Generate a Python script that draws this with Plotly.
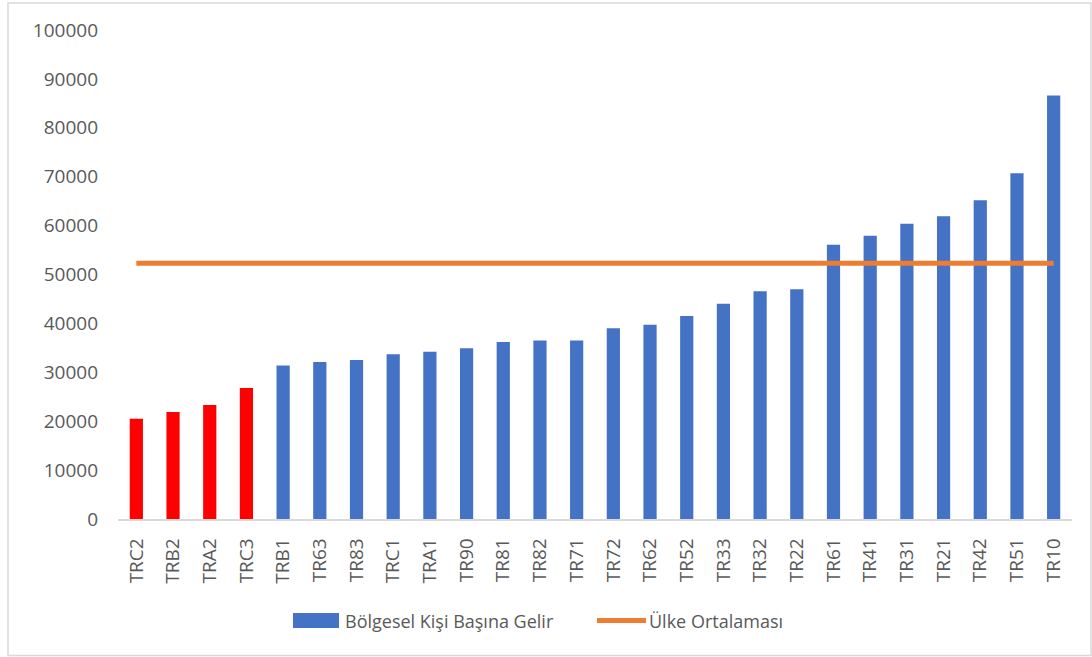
import plotly.graph_objects as go

categories = ["TRC2", "TRB2", "TRA2", "TRC3", "TRB1", "TR63", "TR83", "TRC1", "TRA1",
              "TR90", "TR81", "TR82", "TR71", "TR72", "TR62", "TR52", "TR33", "TR32",
              "TR22", "TR61", "TR41", "TR31", "TR21", "TR42", "TR51", "TR10"]
income = [20500, 21900, 23300, 26800, 31400, 32100, 32500, 33700, 34200,
          34900, 36200, 36500, 36500, 39000, 39700, 41500, 44000, 46600,
          47000, 56100, 57900, 60400, 61900, 65200, 70700, 86600]
country_avg = 52300
n_low = 4  # lowest regions highlighted in red

series_bar = "Bölgesel Kişi Başına Gelir"
series_line = "Ülke Ortalaması"
y_ticks = [0, 10000, 20000, 30000, 40000, 50000, 60000, 70000, 80000, 90000, 100000]
y_tick_text = [str(v) for v in y_ticks]

BLUE = "#4472C4"
RED = "#FF0000"
ORANGE = "#ED7D31"
TEXT = "#595959"
FONT = "Open Sans"

W, H = 1092, 657
L, R, T, B = 118, 20, 30, 138
PW, PH = W - L - R, H - T - B


def px(x):
    return (x - L) / PW


def py(y):
    return (H - B - y) / PH


colors = [RED if i < n_low else BLUE for i in range(len(categories))]

fig = go.Figure()
fig.add_trace(go.Bar(x=categories, y=income, marker=dict(color=colors, line=dict(width=0)),
                     width=0.36, name=series_bar, showlegend=False))
fig.add_trace(go.Scatter(x=categories, y=[country_avg] * len(categories), mode="lines",
                         line=dict(color=ORANGE, width=5), name=series_line, showlegend=False))

fig.update_layout(
    width=W, height=H,
    margin=dict(l=L, r=R, t=T, b=B),
    paper_bgcolor="white", plot_bgcolor="white",
    font=dict(family=FONT, size=18, color=TEXT),
    xaxis=dict(showline=True, linecolor="#D9D9D9", linewidth=1.5, showgrid=False,
               tickangle=-90, ticks="", tickfont=dict(size=19, color=TEXT),
               ticklabelstandoff=10),
    yaxis=dict(range=[0, 100000], tickvals=y_ticks, ticktext=y_tick_text,
               showgrid=False, zeroline=False,
               showline=False, ticks="", tickfont=dict(size=19, color=TEXT),
               ticklabelstandoff=19),
)

# chart border
fig.add_shape(type="rect", xref="paper", yref="paper",
              x0=px(8), x1=px(1091), y0=py(655.5), y1=py(3),
              line=dict(color="#D9D9D9", width=1.5), fillcolor="rgba(0,0,0,0)")

# manual legend
fig.add_shape(type="rect", xref="paper", yref="paper",
              x0=px(293), x1=px(339), y0=py(628), y1=py(613),
              line=dict(width=0), fillcolor=BLUE)
fig.add_annotation(xref="paper", yref="paper", x=px(343), y=py(620.5), text=series_bar,
                   showarrow=False, xanchor="left", yanchor="middle",
                   font=dict(size=18, color=TEXT, family=FONT))
fig.add_shape(type="line", xref="paper", yref="paper",
              x0=px(597), x1=px(646), y0=py(620.5), y1=py(620.5),
              line=dict(color=ORANGE, width=5))
fig.add_annotation(xref="paper", yref="paper", x=px(647), y=py(620.5), text=series_line,
                   showarrow=False, xanchor="left", yanchor="middle",
                   font=dict(size=18, color=TEXT, family=FONT))

fig.write_html("out.html", config={"displayModeBar": False})

# remove the browser's default body margin so the figure sits at the page origin
with open("out.html", "r", encoding="utf-8") as f:
    html = f.read()
html = html.replace("<head>", "<head><style>html,body{margin:0;padding:0;overflow:hidden;}</style>", 1)
with open("out.html", "w", encoding="utf-8") as f:
    f.write(html)
